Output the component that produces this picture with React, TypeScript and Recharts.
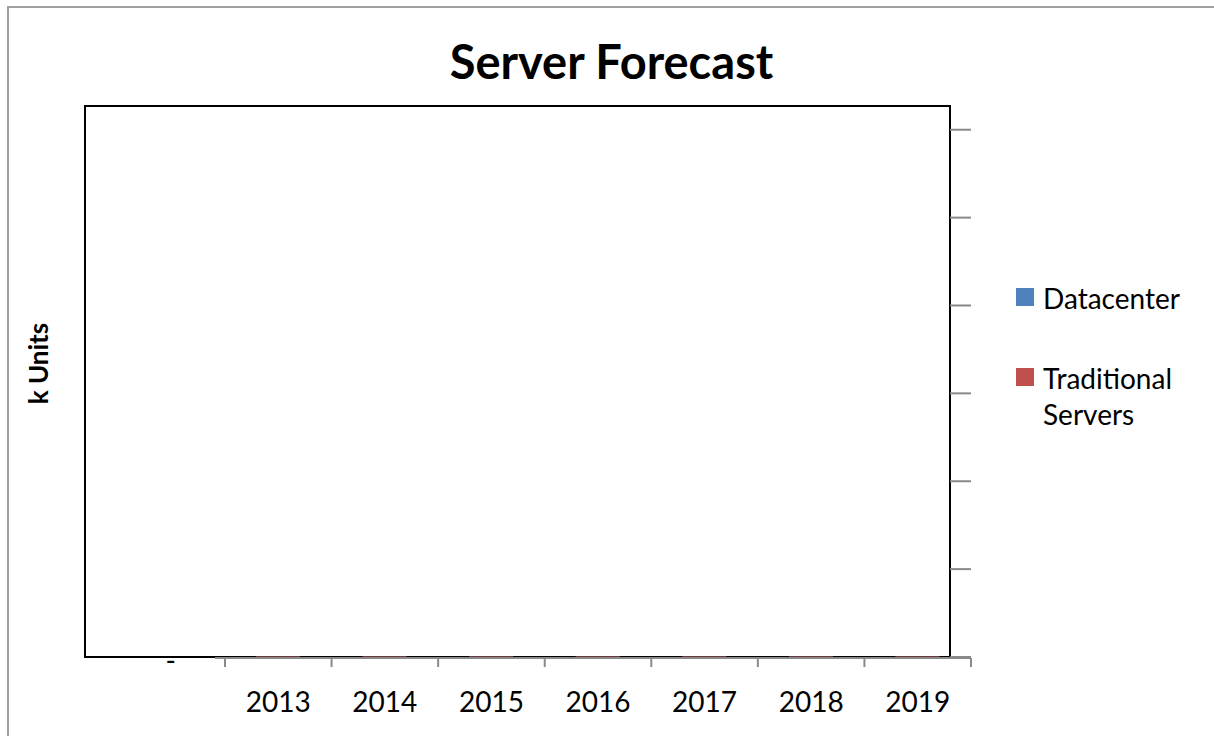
import React from 'react'
import { BarChart, Bar, XAxis, YAxis, Legend, ReferenceArea } from 'recharts'

const years = ['2013', '2014', '2015', '2016', '2017', '2018', '2019']
const datacenter = [0.2, 0.2, 0.2, 0.2, 0.2, 0.2, 0.2]
const traditional = [0.6, 0.6, 0.6, 0.6, 0.6, 0.6, 0.6]
const yTicks = [0, 100, 200, 300, 400, 500, 600]
const yMax = 627

const BLUE = '#4F81BD'
const RED = '#C0504D'
const FONT = 'Lato, "Noto Sans", sans-serif'

const data = years.map((year, i) => ({
  year,
  datacenter: datacenter[i],
  traditional: traditional[i],
}))

// Excel style: tick marks sit between the categories, labels in the middle
const YearTick = (props: any) => {
  const { x, y, payload, index } = props
  const half = payload?.offset ?? 53.3
  const last = index === years.length - 1
  return (
    <g>
      <line x1={x - half - 10} x2={x + half} y1={y + 1} y2={y + 1} stroke="#898989" strokeWidth={2} />
      <line x1={x - half} x2={x - half} y1={y + 1} y2={y + 10} stroke="#898989" strokeWidth={2} />
      {last && <line x1={x + half} x2={x + half} y1={y + 1} y2={y + 10} stroke="#898989" strokeWidth={2} />}
      <text x={x} y={y + 55} textAnchor="middle" fill="#000" fontSize={28} fontFamily={FONT}>
        {payload.value}
      </text>
    </g>
  )
}

const LegendContent = ({ payload }: any) => (
  <div style={{ fontFamily: FONT, fontSize: 28, color: '#000', lineHeight: '36px' }}>
    {(payload || []).map((entry: any, i: number) => (
      <div key={i} style={{ display: 'flex', alignItems: 'flex-start', marginBottom: 44 }}>
        <span style={{ display: 'inline-block', width: 18, height: 18, background: entry.color, marginTop: 8, marginRight: 9, flexShrink: 0 }} />
        <span style={{ width: 150 }}>{entry.value}</span>
      </div>
    ))}
  </div>
)

export default function App() {
  return (
    <div style={{ position: 'absolute', left: 0, top: 0, width: 1214, height: 736, overflow: 'hidden', background: '#fff' }}>
      <div style={{ position: 'absolute', left: 7, top: 6, width: 1240, height: 760, border: '2px solid #a0a0a0' }} />
      <div style={{ position: 'absolute', left: 0, top: 33, width: 1223, textAlign: 'center', fontFamily: FONT, fontWeight: 700, fontSize: 47, color: '#000' }}>
        Server Forecast
      </div>
      <BarChart
        width={1214}
        height={736}
        data={data}
        margin={{ top: 106, right: 243, bottom: 19, left: 25 }}
        style={{ position: 'absolute', left: 0, top: 0 }}
      >
        <XAxis
          dataKey="year"
          height={60}
          padding={{ left: 140, right: 0 }}
          axisLine={false}
          tickLine={false}
          tickSize={0}
          tickMargin={0}
          interval={0}
          tick={<YearTick />}
        />
        <XAxis xAxisId="box" dataKey="year" hide padding={{ left: 0, right: 21 }} />
        <YAxis
          yAxisId="left"
          width={60}
          domain={[0, yMax]}
          ticks={[0]}
          allowDataOverflow
          axisLine={false}
          tickLine={false}
          tickFormatter={() => '-'}
          tick={{ fill: '#000', fontSize: 28, fontFamily: FONT, dx: 99, dy: 4 }}
          label={{ value: 'k Units', angle: -90, position: 'insideLeft', offset: 14, dy: -18, style: { fontFamily: FONT, fontWeight: 700, fontSize: 26, fill: '#000', textAnchor: 'middle' } }}
        />
        <YAxis
          yAxisId="right"
          orientation="right"
          mirror
          width={21}
          domain={[0, yMax]}
          ticks={yTicks}
          allowDataOverflow
          axisLine={false}
          tickFormatter={() => ''}
          tickSize={21}
          tickLine={{ stroke: '#898989', strokeWidth: 2 }}
        />
        <ReferenceArea
          xAxisId="box"
          yAxisId="right"
          x1={years[0]}
          x2={years[years.length - 1]}
          y1={0}
          y2={yMax}
          fill="none"
          stroke="#000"
          strokeWidth={2}
          ifOverflow="visible"
        />
        <Legend
          layout="vertical"
          align="center"
          verticalAlign="middle"
          content={<LegendContent />}
          wrapperStyle={{ left: 1016, top: 280, width: 195 }}
        />
        <Bar yAxisId="right" dataKey="datacenter" name="Datacenter" stackId="a" fill={BLUE} barSize={44} isAnimationActive={false} />
        <Bar yAxisId="right" dataKey="traditional" name="Traditional Servers" stackId="a" fill={RED} barSize={44} isAnimationActive={false} />
      </BarChart>
    </div>
  )
}
